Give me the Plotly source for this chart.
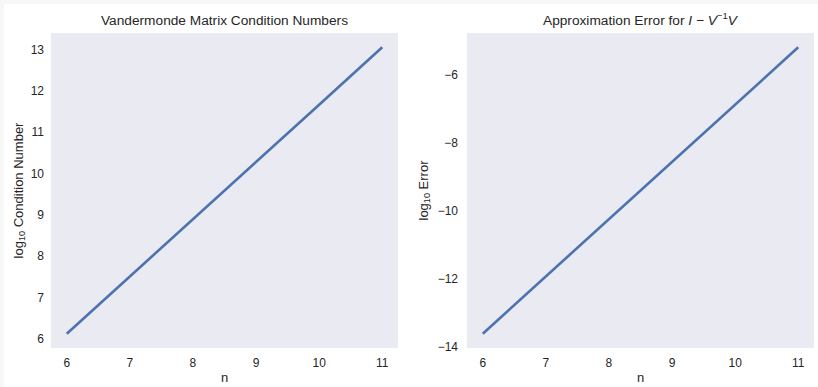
import plotly.graph_objects as go
from plotly.subplots import make_subplots

n_values = [6, 7, 8, 9, 10, 11]
log_cond = [6.12, 7.50, 8.89, 10.28, 11.66, 13.05]
log_err = [-13.62, -11.94, -10.26, -8.57, -6.89, -5.20]

x_ticks = [6, 7, 8, 9, 10, 11]
left_y_ticks = [6, 7, 8, 9, 10, 11, 12, 13]
right_y_ticks = [-14, -12, -10, -8, -6]

LINE = "#4C72B0"
BG = "#EAEAF2"
TXT = "#262626"
FONT = "Liberation Sans, Arial, sans-serif"

W, H = 818, 387
L, R, T, B = 51, 4, 33, 39
pw = W - L - R
ph = H - T - B

fig = make_subplots(rows=1, cols=2)
fig.add_trace(go.Scatter(x=n_values, y=log_cond, mode="lines",
                         line=dict(color=LINE, width=2.6), showlegend=False), 1, 1)
fig.add_trace(go.Scatter(x=n_values, y=log_err, mode="lines",
                         line=dict(color=LINE, width=2.6), showlegend=False), 1, 2)

d1 = (0, (398 - L) / pw)
d2 = ((467 - L) / pw, 1)

def pad(vals):
    lo, hi = min(vals), max(vals)
    s = hi - lo
    return [lo - 0.05 * s, hi + 0.05 * s]

common_axis = dict(showgrid=False, zeroline=False, showline=False, ticks="",
                   tickfont=dict(size=12, color=TXT, family=FONT))

xt = dict(text="n", font=dict(size=13, color=TXT, family=FONT), standoff=3)
fig.update_xaxes(domain=list(d1), range=pad(n_values), tickvals=x_ticks, title=xt,
                 ticklabelstandoff=6, row=1, col=1, **common_axis)
fig.update_xaxes(domain=list(d2), range=pad(n_values), tickvals=x_ticks, title=xt,
                 ticklabelstandoff=6, row=1, col=2, **common_axis)
fig.update_yaxes(range=pad(log_cond), tickvals=left_y_ticks,
                 title=dict(text="log<sub>10</sub> Condition Number",
                            font=dict(size=13, color=TXT, family=FONT), standoff=4),
                 ticklabelstandoff=6, row=1, col=1, **common_axis)
fig.update_yaxes(range=pad(log_err), tickvals=right_y_ticks,
                 ticktext=["\u221214", "\u221212", "\u221210", "\u22128", "\u22126"],
                 title=dict(text="log<sub>10</sub> Error",
                            font=dict(size=13, color=TXT, family=FONT), standoff=6),
                 ticklabelstandoff=8, row=1, col=2, **common_axis)

titles = [
    ("Vandermonde Matrix Condition Numbers", (d1[0] + d1[1]) / 2),
    ("Approximation Error for <i>I</i> \u2212 <i>V</i><sup>\u22121</sup><i>V</i>", (d2[0] + d2[1]) / 2),
]
annotations = []
for text, xc in titles:
    annotations.append(dict(text=text, x=xc, y=1, xref="paper", yref="paper",
                            xanchor="center", yanchor="bottom", yshift=3, showarrow=False,
                            font=dict(size=13.7, color=TXT, family=FONT)))

# thin light-gray page border strips at top and left
shapes = [
    dict(type="rect", xref="paper", yref="paper",
         x0=-L / pw, x1=(W - L) / pw, y0=(H - B - 4) / ph, y1=(H - B) / ph,
         line=dict(width=0), fillcolor="#F7F7F7", layer="above"),
    dict(type="rect", xref="paper", yref="paper",
         x0=-L / pw, x1=(-L + 4) / pw, y0=-B / ph, y1=(H - B) / ph,
         line=dict(width=0), fillcolor="#F7F7F7", layer="above"),
]

fig.update_layout(width=W, height=H, margin=dict(l=L, r=R, t=T, b=B, autoexpand=False),
                  paper_bgcolor="white", plot_bgcolor=BG,
                  font=dict(family=FONT, color=TXT),
                  annotations=annotations, shapes=shapes)

fig.write_html("out.html", config={"displayModeBar": False},
               post_script="document.body.style.margin='0';document.body.style.overflow='hidden';")
